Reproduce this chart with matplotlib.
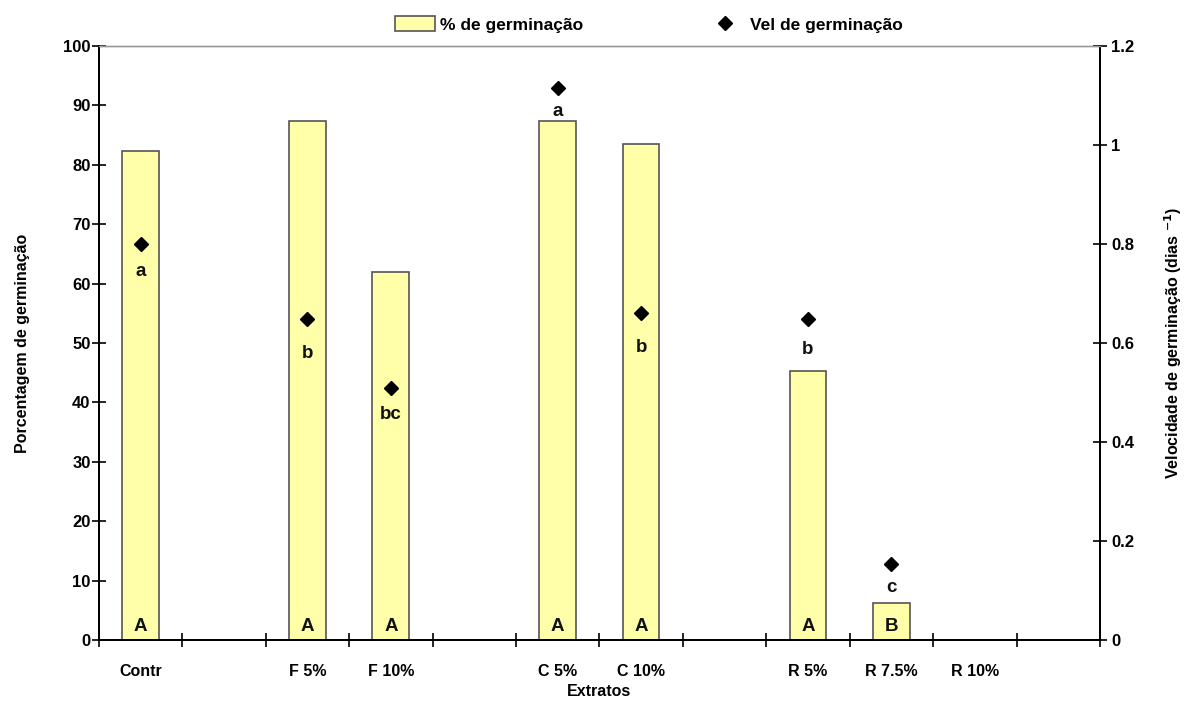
import matplotlib
matplotlib.use("Agg")
import matplotlib.pyplot as plt
from matplotlib.patches import Patch
from matplotlib.lines import Line2D

# --- data -------------------------------------------------------------
categories = ["Contr", "", "F 5%", "F 10%", "", "C 5%", "C 10%", "", "R 5%", "R 7.5%", "R 10%", ""]
germ_pct = [82.3, None, 87.3, 62.0, None, 87.3, 83.5, None, 45.2, 6.3, 0.0, None]
germ_vel = [0.80, None, 0.648, 0.51, None, 1.115, 0.66, None, 0.648, 0.153, None, None]
pct_letters = ["A", "", "A", "A", "", "A", "A", "", "A", "B", "", ""]
vel_letters = ["a", "", "b", "bc", "", "a", "b", "", "b", "c", "", ""]
# vertical gap (points) between each diamond and its letter
vel_letter_gap = [20, 0, 25, 19.5, 0, 17, 24.5, 0, 21.5, 17, 0, 0]

plt.rcParams["font.family"] = ["Liberation Sans", "DejaVu Sans"]
plt.rcParams["font.weight"] = "bold"

bar_color = "#FFFFAA"
edge_color = "#555555"

fig = plt.figure(figsize=(11.84, 7.22), dpi=100)
ax = fig.add_axes([0.0835, 0.1136, 0.929 - 0.0835, 0.9363 - 0.1136])
ax2 = ax.twinx()

n = len(categories)
xs = list(range(n))

# bars (percentage)
bx = [x for x, v in zip(xs, germ_pct) if v is not None]
bv = [v for v in germ_pct if v is not None]
ax.bar(bx, bv, width=0.44, color=bar_color, edgecolor=edge_color, linewidth=1.2, zorder=2)

# diamonds (velocity)
vx = [x for x, v in zip(xs, germ_vel) if v is not None]
vv = [v for v in germ_vel if v is not None]
ax2.plot(vx, vv, linestyle="none", marker="D", markersize=7.5, color="black", zorder=4)

# letters for percentage at the bar base
for x, v, lab in zip(xs, germ_pct, pct_letters):
    if lab:
        ax.text(x, 2.2, lab, ha="center", va="center", fontsize=13.5, fontweight="bold",
                color="#111111", zorder=5)

# letters for velocity under each diamond
for x, v, lab, gap in zip(xs, germ_vel, vel_letters, vel_letter_gap):
    if lab and v is not None:
        ax2.annotate(lab, (x, v), xytext=(0, -gap), textcoords="offset points",
                     ha="center", va="center", fontsize=13.5, fontweight="bold",
                     color="#111111", zorder=5)

# axes limits and ticks
ax.set_xlim(-0.5, n - 0.5)
ax.set_ylim(0, 100)
ax2.set_ylim(0, 1.2)
ax.set_yticks(range(0, 101, 10))
ax2.set_yticks([0, 0.2, 0.4, 0.6, 0.8, 1.0, 1.2])
ax2.set_yticklabels(["0", "0.2", "0.4", "0.6", "0.8", "1", "1.2"])

ax.set_xticks([x - 0.5 for x in range(n + 1)])
ax.set_xticklabels([])
ax.set_xticks(xs, minor=True)
ax.set_xticklabels(categories, minor=True)
ax.tick_params(axis="x", which="minor", length=0, pad=17, labelsize=11.5)
ax.tick_params(axis="x", which="major", direction="inout", length=10, width=1.2)
ax.tick_params(axis="y", direction="inout", length=10, width=1.2, labelsize=12, pad=1)
ax2.tick_params(axis="y", direction="inout", length=10, width=1.2, labelsize=12, pad=3)

for a in (ax, ax2):
    a.spines["top"].set_color("#999999")
    a.spines["top"].set_linewidth(1.0)
    for s in ("left", "right", "bottom"):
        a.spines[s].set_linewidth(1.4)
        a.spines[s].set_color("black")

ax.set_ylabel("Porcentagem de germinação", fontsize=11.5, fontweight="bold", labelpad=24)
ax2.set_ylabel("Velocidade de germinação (dias $^{-1}$)", fontsize=11.5, fontweight="bold",
               rotation=90, labelpad=20)
ax.set_xlabel("Extratos", fontsize=11.5, fontweight="bold")
ax.xaxis.set_label_coords(0.5, -0.087)
ax.xaxis.label.set_verticalalignment("center")

handles = [
    Patch(facecolor=bar_color, edgecolor=edge_color, linewidth=1.2),
    Line2D([], [], linestyle="none", marker="D", markersize=7, color="black"),
]
fig.legend(handles, ["% de germinação", "Vel de germinação"], ncol=2, frameon=False,
           loc="center", bbox_to_anchor=(0.548, 0.966), fontsize=12.5,
           handlelength=2.3, handleheight=0.9, columnspacing=7, handletextpad=0.3)

fig.savefig("out.png", dpi=100)
